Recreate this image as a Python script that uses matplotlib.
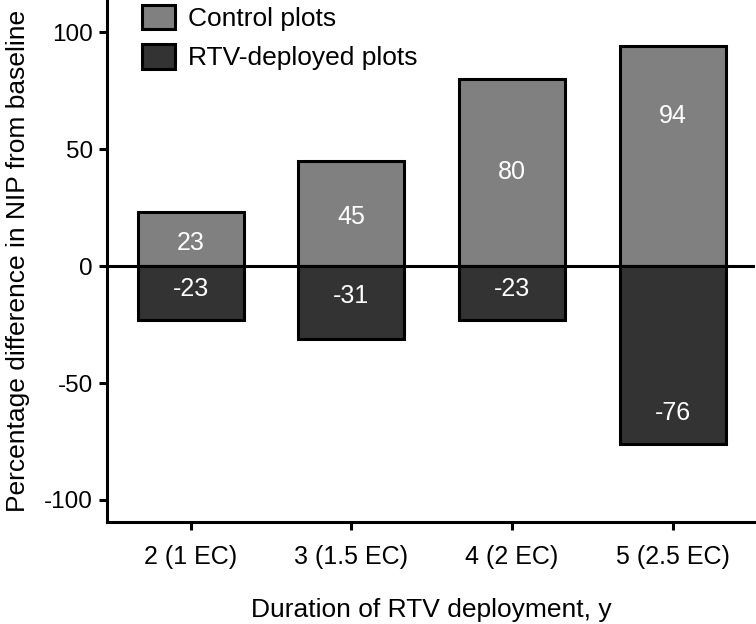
import numpy as np
import matplotlib
matplotlib.use('Agg')
import matplotlib.pyplot as plt
from matplotlib.patches import Patch

plt.rcParams['font.family'] = ['Liberation Sans', 'DejaVu Sans']
plt.rcParams['axes.unicode_minus'] = False

durations = ['2 (1 EC)', '3 (1.5 EC)', '4 (2 EC)', '5 (2.5 EC)']
control = [23, 45, 80, 94]
deployed = [-23, -31, -23, -76]
# where the number labels sit inside the bars (data units)
control_label_y = [10, 21, 40, 64]
deployed_label_y = [-10, -13, -10, -63]

CONTROL_COLOR = '#808080'
DEPLOYED_COLOR = '#333333'

fig = plt.figure(figsize=(7.56, 6.24), dpi=100)
ax = fig.add_axes([0.1415, 0.1635, 0.857, 0.8365])

x = np.arange(len(durations))
w = 0.66
ax.bar(x, control, w, color=CONTROL_COLOR, edgecolor='black', linewidth=2.2)
ax.bar(x, deployed, w, color=DEPLOYED_COLOR, edgecolor='black', linewidth=2.2)

for i in range(len(durations)):
    ax.text(x[i], control_label_y[i], str(control[i]), color='white',
            fontsize=18, ha='center', va='center')
    ax.text(x[i], deployed_label_y[i], str(deployed[i]), color='white',
            fontsize=18, ha='center', va='center')

ax.axhline(0, color='black', lw=2.2, zorder=3)

ax.set_xlim(-0.52, 3.51)
ax.set_ylim(-109.4, 113.7)
ax.set_yticks([-100, -50, 0, 50, 100])
ax.set_xticks(x)
ax.set_xticklabels(durations, fontsize=18)
ax.tick_params(axis='y', labelsize=17.5, width=2.2, length=6, pad=4)
ax.tick_params(axis='x', width=2.2, length=6, pad=10.5)

for s in ['top', 'right']:
    ax.spines[s].set_visible(False)
for s in ['left', 'bottom']:
    ax.spines[s].set_linewidth(2.2)

ax.set_xlabel('Duration of RTV deployment, y', fontsize=19, labelpad=21)
ax.set_ylabel('Percentage difference in NIP from baseline', fontsize=19)
ax.yaxis.set_label_coords(-0.119, 0.5)

handles = [Patch(facecolor=CONTROL_COLOR, edgecolor='black', linewidth=2.2),
           Patch(facecolor=DEPLOYED_COLOR, edgecolor='black', linewidth=2.2)]
ax.legend(handles, ['Control plots', 'RTV-deployed plots'], loc='upper left',
          bbox_to_anchor=(0.054, 0.991), frameon=False, fontsize=19,
          borderpad=0, borderaxespad=0,
          handlelength=1.25, handleheight=1.05, labelspacing=0.5, handletextpad=0.5)

fig.savefig('out.png', dpi=100)
